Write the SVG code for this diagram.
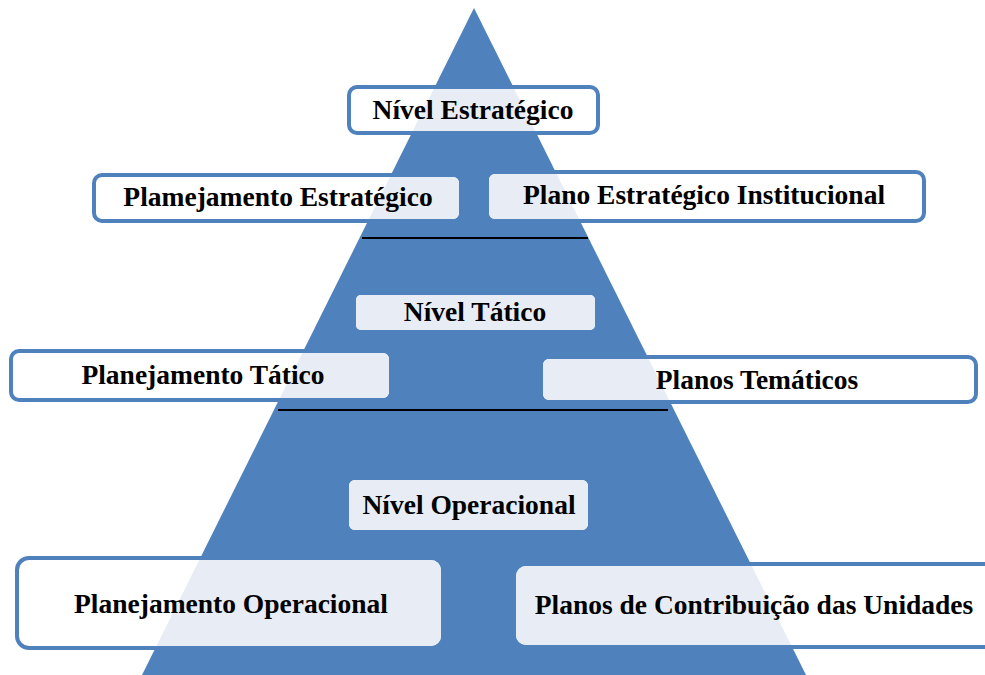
<svg xmlns="http://www.w3.org/2000/svg" width="985" height="675" viewBox="0 0 985 675">
  <style>
    .box { fill: #ffffff; stroke: #4F81BD; stroke-width: 4; }
    .inner { fill: #E8EDF5; stroke: none; }
    .lbl { font-family: "Liberation Serif", "Times New Roman", serif; font-weight: bold; font-size: 27.5px; fill: #000; text-anchor: middle; }
    .div { stroke: #000; stroke-width: 2; }
  </style>
  <defs>
    <clipPath id="tri">
      <polygon points="474,8 142,675 806,675"/>
    </clipPath>
  </defs>
  <rect width="985" height="675" fill="#ffffff"/>
  <g id="pyramid">
    <polygon points="474,8 142,675 806,675" fill="#4F81BD"/>
  </g>
  <g id="connectors">
    <line class="div" x1="362" y1="238" x2="588" y2="238"/>
    <line class="div" x1="278" y1="410" x2="668" y2="410"/>
  </g>
  <g id="nivel-estrategico">
    <rect class="box" x="349" y="87" width="249" height="46" rx="8"/>
    <rect class="inner" x="351" y="89" width="245" height="42" rx="6" clip-path="url(#tri)"/>
    <text class="lbl" x="473" y="119">Nível Estratégico</text>
  </g>
  <g id="planejamento-estrategico">
    <rect class="box" x="94" y="175" width="367" height="46" rx="8"/>
    <rect class="inner" x="96" y="177" width="363" height="42" rx="6" clip-path="url(#tri)"/>
    <text class="lbl" x="278" y="206">Plamejamento Estratégico</text>
  </g>
  <g id="plano-estrategico-institucional">
    <rect class="box" x="487" y="172" width="437" height="49" rx="8"/>
    <rect class="inner" x="489" y="174" width="433" height="45" rx="6" clip-path="url(#tri)"/>
    <text class="lbl" x="704" y="204">Plano Estratégico Institucional</text>
  </g>
  <g id="nivel-tatico">
    <rect class="box" x="354" y="293" width="243" height="39" rx="7"/>
    <rect class="inner" x="356" y="295" width="239" height="35" rx="5" clip-path="url(#tri)"/>
    <text class="lbl" x="475" y="321">Nível Tático</text>
  </g>
  <g id="planejamento-tatico">
    <rect class="box" x="11" y="351" width="380" height="49" rx="8"/>
    <rect class="inner" x="13" y="353" width="376" height="45" rx="6" clip-path="url(#tri)"/>
    <text class="lbl" x="203" y="384">Planejamento Tático</text>
  </g>
  <g id="planos-tematicos">
    <rect class="box" x="541" y="357" width="435" height="45" rx="8"/>
    <rect class="inner" x="543" y="359" width="431" height="41" rx="6" clip-path="url(#tri)"/>
    <text class="lbl" x="757" y="389">Planos Temáticos</text>
  </g>
  <g id="nivel-operacional">
    <rect class="box" x="347" y="478" width="243" height="54" rx="8"/>
    <rect class="inner" x="349" y="480" width="239" height="50" rx="6" clip-path="url(#tri)"/>
    <text class="lbl" x="469" y="514">Nível Operacional</text>
  </g>
  <g id="planejamento-operacional">
    <rect class="box" x="17" y="558" width="426" height="90" rx="12"/>
    <rect class="inner" x="19" y="560" width="422" height="86" rx="10" clip-path="url(#tri)"/>
    <text class="lbl" x="231" y="613">Planejamento Operacional</text>
  </g>
  <g id="planos-contribuicao">
    <rect class="box" x="514" y="564" width="500" height="83" rx="12"/>
    <rect class="inner" x="516" y="566" width="496" height="79" rx="10" clip-path="url(#tri)"/>
    <text class="lbl" x="754" y="614">Planos de Contribuição das Unidades</text>
  </g>
</svg>
